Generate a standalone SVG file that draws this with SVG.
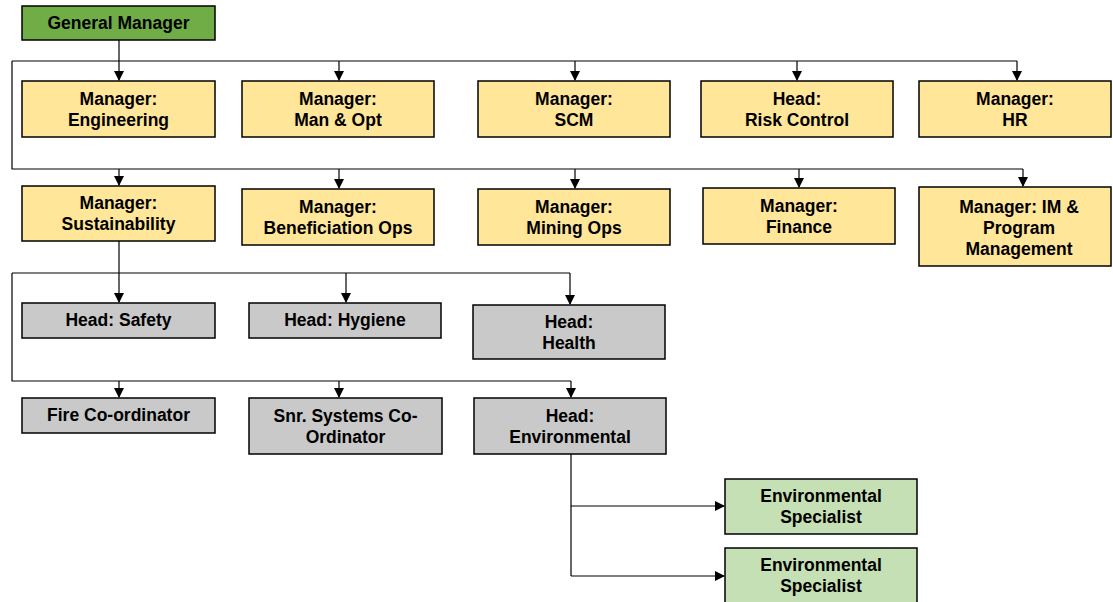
<svg xmlns="http://www.w3.org/2000/svg" width="1113" height="602" viewBox="0 0 1113 602">
<style>
.b{stroke:#000;stroke-width:1.5}
.gm{fill:#70AD47}
.y{fill:#FFE699}
.g{fill:#C9C9C9}
.lg{fill:#C5E0B4}
text{font-family:"Liberation Sans",Arial,sans-serif;font-weight:bold;font-size:17.5px;text-anchor:middle;fill:#000}
.c{fill:none;stroke:#000;stroke-width:1.2}
</style>
<defs>
<marker id="a" markerWidth="10" markerHeight="10" refX="9" refY="5" orient="auto" markerUnits="userSpaceOnUse">
<path d="M0,0 L10,5 L0,10 z" fill="#000"/>
</marker>
</defs>
<rect width="1113" height="602" fill="#fff"/>
<g id="connectors">
<path class="c" d="M119,40 V80" marker-end="url(#a)"/>
<path class="c" d="M12,61 H1017 M12,61 V169 H1023"/>
<path class="c" d="M339,61 V80" marker-end="url(#a)"/>
<path class="c" d="M575,61 V80" marker-end="url(#a)"/>
<path class="c" d="M797,61 V80" marker-end="url(#a)"/>
<path class="c" d="M1017,61 V80" marker-end="url(#a)"/>
<path class="c" d="M119,169 V185" marker-end="url(#a)"/>
<path class="c" d="M339,169 V188" marker-end="url(#a)"/>
<path class="c" d="M575,169 V188" marker-end="url(#a)"/>
<path class="c" d="M799,169 V187" marker-end="url(#a)"/>
<path class="c" d="M1023,169 V186" marker-end="url(#a)"/>
<path class="c" d="M119,241 V302" marker-end="url(#a)"/>
<path class="c" d="M12,273 H570 M12,273 V381 H571"/>
<path class="c" d="M346,273 V302" marker-end="url(#a)"/>
<path class="c" d="M570,273 V304" marker-end="url(#a)"/>
<path class="c" d="M119,381 V397" marker-end="url(#a)"/>
<path class="c" d="M339,381 V397" marker-end="url(#a)"/>
<path class="c" d="M571,381 V397" marker-end="url(#a)"/>
<path class="c" d="M571,454 V576"/>
<path class="c" d="M571,506 H724" marker-end="url(#a)"/>
<path class="c" d="M571,576 H724" marker-end="url(#a)"/>
</g>
<g id="gm"><rect class="b gm" x="22" y="6" width="193" height="34"/><text x="118.5" y="29">General Manager</text></g>
<g id="eng"><rect class="b y" x="22" y="81" width="193" height="56"/><text x="118.5" y="105">Manager:</text><text x="118.5" y="126">Engineering</text></g>
<g id="manopt"><rect class="b y" x="242" y="81" width="192" height="56"/><text x="338" y="105">Manager:</text><text x="338" y="126">Man &amp; Opt</text></g>
<g id="scm"><rect class="b y" x="478" y="81" width="192" height="56"/><text x="574" y="105">Manager:</text><text x="574" y="126">SCM</text></g>
<g id="risk"><rect class="b y" x="701" y="81" width="192" height="56"/><text x="797" y="105">Head:</text><text x="797" y="126">Risk Control</text></g>
<g id="hr"><rect class="b y" x="919" y="81" width="192" height="56"/><text x="1015" y="105">Manager:</text><text x="1015" y="126">HR</text></g>
<g id="sus"><rect class="b y" x="22" y="186" width="193" height="55"/><text x="118.5" y="209">Manager:</text><text x="118.5" y="230">Sustainability</text></g>
<g id="ben"><rect class="b y" x="242" y="189" width="192" height="56"/><text x="338" y="213">Manager:</text><text x="338" y="234">Beneficiation Ops</text></g>
<g id="mining"><rect class="b y" x="478" y="189" width="192" height="56"/><text x="574" y="213">Manager:</text><text x="574" y="234">Mining Ops</text></g>
<g id="fin"><rect class="b y" x="703" y="188" width="192" height="56"/><text x="799" y="212">Manager:</text><text x="799" y="233">Finance</text></g>
<g id="im"><rect class="b y" x="919" y="187" width="192" height="79"/><text x="1019" y="213">Manager: IM &amp;</text><text x="1019" y="234">Program</text><text x="1019" y="255">Management</text></g>
<g id="safety"><rect class="b g" x="22" y="303" width="193" height="35"/><text x="118.5" y="326">Head: Safety</text></g>
<g id="hygiene"><rect class="b g" x="249" y="303" width="192" height="35"/><text x="345" y="326">Head: Hygiene</text></g>
<g id="health"><rect class="b g" x="473" y="305" width="192" height="54"/><text x="569" y="328">Head:</text><text x="569" y="349">Health</text></g>
<g id="fire"><rect class="b g" x="22" y="398" width="193" height="35"/><text x="118.5" y="421">Fire Co-ordinator</text></g>
<g id="snr"><rect class="b g" x="249" y="398" width="193" height="56"/><text x="345.5" y="422">Snr. Systems Co-</text><text x="345.5" y="443">Ordinator</text></g>
<g id="env"><rect class="b g" x="474" y="398" width="192" height="56"/><text x="570" y="422">Head:</text><text x="570" y="443">Environmental</text></g>
<g id="spec1"><rect class="b lg" x="725" y="479" width="192" height="55"/><text x="821" y="502">Environmental</text><text x="821" y="523">Specialist</text></g>
<g id="spec2"><rect class="b lg" x="725" y="548" width="192" height="60"/><text x="821" y="571">Environmental</text><text x="821" y="592">Specialist</text></g>
</svg>
